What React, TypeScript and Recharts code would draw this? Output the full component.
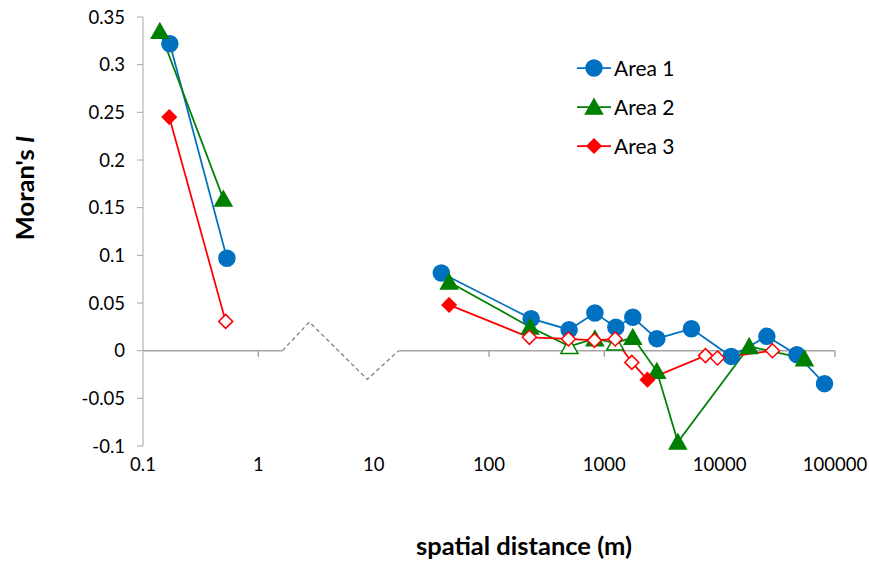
import React from "react";
import {
  LineChart,
  Line,
  XAxis,
  YAxis,
  ReferenceLine,
} from "recharts";

const FONT = "Lato, 'Open Sans', sans-serif";
const AXIS_GREY = "#a6a6a6";

// x ticks (log scale) and y ticks
const xTicks = [0.1, 1, 10, 100, 1000, 10000, 100000];
const yTicks = [-0.1, -0.05, 0, 0.05, 0.1, 0.15, 0.2, 0.25, 0.3, 0.35];

// Area 1 (blue circles) - short range and long range
const area1NearX = [0.171, 0.534];
const area1NearY = [0.322, 0.097];
const area1NearFilled = [true, true];
const area1FarX = [38.6, 232, 495, 828, 1259, 1766, 2853, 5690, 12590, 25650, 46700, 81100];
const area1FarY = [0.0815, 0.0336, 0.022, 0.0395, 0.0245, 0.035, 0.0126, 0.023, -0.006, 0.015, -0.0042, -0.0346];
const area1FarFilled = [true, true, true, true, true, true, true, true, true, true, true, true];

// Area 2 (green triangles)
const area2NearX = [0.14, 0.498];
const area2NearY = [0.335, 0.159];
const area2NearFilled = [true, true];
const area2FarX = [45.1, 227, 498, 828, 1242, 1766, 2853, 4340, 18030, 54350];
const area2FarY = [0.072, 0.0249, 0.0045, 0.0126, 0.008, 0.014, -0.0217, -0.0958, 0.0045, -0.0084];
const area2FarFilled = [true, true, false, true, false, true, true, true, true, true];

// Area 3 (red diamonds)
const area3NearX = [0.169, 0.521];
const area3NearY = [0.245, 0.0307];
const area3NearFilled = [true, false];
const area3FarX = [45.1, 224, 489, 821, 1242, 1730, 2366, 7530, 9570, 28700];
const area3FarY = [0.048, 0.014, 0.0123, 0.0108, 0.0123, -0.0123, -0.0304, -0.0052, -0.0077, 0.0];
const area3FarFilled = [true, false, false, false, false, false, true, false, false, false];

// broken-axis zigzag
const breakX = [1.62, 2.77, 8.8, 16.5];
const breakY = [0, 0.03, -0.03, 0];

// tick marks drawn on the zero line
const zeroTicks = [1, 100, 1000, 10000, 100000];

const build = (
  nx: number[], ny: number[], nf: boolean[],
  fx: number[], fy: number[], ff: boolean[]
) => [
  ...nx.map((x, i) => ({ x, y: ny[i], filled: nf[i] })),
  { x: 5, y: null, filled: true },
  ...fx.map((x, i) => ({ x, y: fy[i], filled: ff[i] })),
];

const area1 = build(area1NearX, area1NearY, area1NearFilled, area1FarX, area1FarY, area1FarFilled);
const area2 = build(area2NearX, area2NearY, area2NearFilled, area2FarX, area2FarY, area2FarFilled);
const area3 = build(area3NearX, area3NearY, area3NearFilled, area3FarX, area3FarY, area3FarFilled);
const breakData = breakX.map((x, i) => ({ x, y: breakY[i] }));

const series = [
  { name: "Area 1", color: "#0070c0", shape: "circle", data: area1 },
  { name: "Area 2", color: "#008000", shape: "triangle", data: area2 },
  { name: "Area 3", color: "#ff0000", shape: "diamond", data: area3 },
];

function Marker({ shape, cx, cy, color, filled }: any) {
  const fill = filled ? color : "#ffffff";
  if (shape === "circle") {
    return <circle cx={cx} cy={cy} r={8} fill={fill} stroke={color} strokeWidth={1.5} />;
  }
  if (shape === "triangle") {
    const pts = `${cx},${cy - 8} ${cx + 8.5},${cy + 7} ${cx - 8.5},${cy + 7}`;
    return <polygon points={pts} fill={fill} stroke={color} strokeWidth={1.5} />;
  }
  const d = 7;
  const pts = `${cx},${cy - d} ${cx + d},${cy} ${cx},${cy + d} ${cx - d},${cy}`;
  return <polygon points={pts} fill={fill} stroke={color} strokeWidth={1.5} />;
}

const makeDot = (shape: string, color: string) => (props: any) => {
  const { cx, cy, payload, index } = props;
  if (payload == null || payload.y == null || cx == null || cy == null) {
    return <g key={`d-${index}`} />;
  }
  return (
    <g key={`d-${index}`}>
      <Marker shape={shape} cx={cx} cy={cy} color={color} filled={payload.filled} />
    </g>
  );
};

function LegendBox() {
  return (
    <div
      style={{
        position: "absolute",
        left: 575,
        top: 48,
        fontFamily: FONT,
        fontSize: 21,
        color: "#000",
      }}
    >
      {series.map((s) => (
        <div key={s.name} style={{ display: "flex", alignItems: "center", height: 39 }}>
          <svg width={38} height={20} style={{ display: "block" }}>
            <line x1={2} y1={10} x2={36} y2={10} stroke={s.color} strokeWidth={1.75} />
            <Marker shape={s.shape} cx={19} cy={10} color={s.color} filled />
          </svg>
          <span style={{ marginLeft: 1 }}>{s.name}</span>
        </div>
      ))}
    </div>
  );
}

export default function App() {
  return (
    <div style={{ position: "absolute", left: 0, top: 0, width: 869, height: 561, background: "#fff" }}>
      <LineChart
        width={869}
        height={561}
        margin={{ top: 17, right: 34, left: 83, bottom: 85 }}
      >
        <XAxis
          dataKey="x"
          type="number"
          scale="log"
          domain={[0.1, 100000]}
          ticks={xTicks}
          allowDataOverflow
          axisLine={false}
          tickLine={false}
          tickMargin={6}
          height={30}
          tick={{ fill: "#000", fontSize: 18.5, fontFamily: FONT }}
          tickFormatter={(v) => String(v)}
          label={{
            content: () => (
              <text
                x={524}
                y={545}
                textAnchor="middle"
                dominantBaseline="central"
                fontFamily={FONT}
                fontWeight="bold"
                fontSize={25.5}
                fill="#000"
              >
                spatial distance (m)
              </text>
            ),
          }}
        />
        <YAxis
          type="number"
          domain={[-0.1, 0.35]}
          ticks={yTicks}
          width={60}
          stroke={AXIS_GREY}
          tickLine={{ stroke: AXIS_GREY }}
          tickSize={6}
          tickMargin={12}
          tick={{ fill: "#000", fontSize: 18.5, fontFamily: FONT }}
          tickFormatter={(v) => String(v)}
          label={{
            content: () => (
              <text
                x={24}
                y={188}
                transform="rotate(-90 24 188)"
                textAnchor="middle"
                dominantBaseline="central"
                fontFamily={FONT}
                fontWeight="bold"
                fontSize={25.5}
                fill="#000"
              >
                Moran's <tspan fontStyle="italic">I</tspan>
              </text>
            ),
          }}
        />

        {/* zero line with a break between ~1.6 m and ~16 m */}
        <ReferenceLine
          segment={[{ x: 0.1, y: 0 }, { x: breakX[0], y: 0 }]}
          stroke={AXIS_GREY}
          strokeWidth={1.5}
        />
        <ReferenceLine
          segment={[{ x: breakX[breakX.length - 1], y: 0 }, { x: 100000, y: 0 }]}
          stroke={AXIS_GREY}
          strokeWidth={1.5}
        />
        {zeroTicks.map((t) => (
          <ReferenceLine
            key={t}
            segment={[{ x: t, y: 0 }, { x: t, y: -0.0063 }]}
            stroke={AXIS_GREY}
            strokeWidth={1.5}
          />
        ))}
        <Line
          data={breakData}
          dataKey="y"
          type="linear"
          stroke="#808080"
          strokeWidth={1.3}
          strokeDasharray="4 3"
          dot={false}
          activeDot={false}
          legendType="none"
          isAnimationActive={false}
        />

        {series.map((s) => (
          <Line
            key={s.name}
            name={s.name}
            data={s.data}
            dataKey="y"
            type="linear"
            stroke={s.color}
            strokeWidth={1.75}
            connectNulls={false}
            dot={makeDot(s.shape, s.color)}
            activeDot={false}
            isAnimationActive={false}
          />
        ))}
      </LineChart>
      <LegendBox />
    </div>
  );
}
